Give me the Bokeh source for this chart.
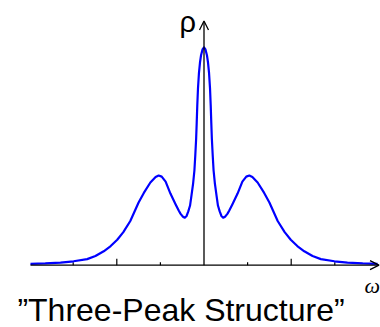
from bokeh.plotting import figure
from bokeh.models import Range1d, Arrow, OpenHead, Label
from bokeh.embed import file_html
from bokeh.resources import INLINE

# spectral function rho(omega) (peak height = 1)
omega = [-3.98, -3.64, -3.29, -2.99, -2.68, -2.49, -2.30, -2.14, -1.99, -1.85,
         -1.69, -1.50, -1.38, -1.23, -1.11, -1.04, -0.97, -0.88, -0.77, -0.65,
         -0.58, -0.54, -0.49, -0.44, -0.40, -0.36, -0.32, -0.29, -0.25, -0.22,
         -0.20, -0.18, -0.167, -0.154, -0.138, -0.115, -0.092, -0.069, -0.034, 0.0,
         0.034, 0.069, 0.092, 0.115, 0.138, 0.154, 0.167, 0.18, 0.20, 0.22,
         0.25, 0.29, 0.32, 0.36, 0.40, 0.44, 0.49, 0.54, 0.58, 0.65,
         0.77, 0.88, 0.97, 1.04, 1.11, 1.23, 1.38, 1.50, 1.69, 1.85,
         1.99, 2.14, 2.30, 2.49, 2.68, 2.99, 3.29, 3.64, 3.98]
rho = [0.006, 0.008, 0.012, 0.018, 0.028, 0.042, 0.064, 0.088, 0.117, 0.152,
       0.203, 0.288, 0.332, 0.380, 0.405, 0.412, 0.407, 0.384, 0.329, 0.279,
       0.251, 0.237, 0.224, 0.218, 0.226, 0.247, 0.274, 0.316, 0.375, 0.435,
       0.504, 0.582, 0.655, 0.734, 0.812, 0.885, 0.931, 0.963, 0.991, 1.0,
       0.991, 0.963, 0.931, 0.885, 0.812, 0.734, 0.655, 0.582, 0.504, 0.435,
       0.375, 0.316, 0.274, 0.247, 0.226, 0.218, 0.224, 0.237, 0.251, 0.279,
       0.329, 0.384, 0.407, 0.412, 0.405, 0.380, 0.332, 0.288, 0.203, 0.152,
       0.117, 0.088, 0.064, 0.042, 0.028, 0.018, 0.012, 0.008, 0.006]

tick_pos = [-3, -2, -1, 1, 2, 3]
tick_len = [0.014, 0.03, 0.014, 0.014, 0.03, 0.014]

title_text = "\u201dThree-Peak Structure\u201d"
y_label = "\u03c1"
x_label = "\u03c9"

W, H = 380, 327
PX0, UX = 203.5, 43.6   # pixel of omega=0, pixels per unit
PY0, UY = 264.7, 217.7  # pixel of rho=0, pixels per unit

p = figure(width=W, height=H, output_backend="svg", toolbar_location=None,
           x_axis_type=None, y_axis_type=None,
           x_range=Range1d(-PX0 / UX, (W - PX0) / UX),
           y_range=Range1d((PY0 - H) / UY, PY0 / UY),
           min_border_left=0, min_border_right=0, min_border_top=0, min_border_bottom=0)
p.grid.visible = False
p.outline_line_color = None
p.background_fill_color = "white"
p.border_fill_color = "white"

x_end = (378.5 - PX0) / UX
y_end = (PY0 - 20.5) / UY

# horizontal axis with arrow
p.add_layout(Arrow(end=OpenHead(size=9, line_width=1.3, line_color="black"),
                   x_start=omega[0], y_start=0, x_end=x_end, y_end=0,
                   line_width=1.3, line_color="black"))
p.segment(x0=tick_pos, y0=[0] * len(tick_pos), x1=tick_pos, y1=tick_len,
          line_color="black", line_width=1.2)

# curve
p.line(omega, rho, line_color="#0000ff", line_width=2.2, line_join="round")

# vertical axis with arrow
p.add_layout(Arrow(end=OpenHead(size=9, line_width=1.3, line_color="black"),
                   x_start=0, y_start=0, x_end=0, y_end=y_end,
                   line_width=1.3, line_color="black"))

p.add_layout(Label(x=(179 - PX0) / UX, y=(PY0 - 21) / UY, text=y_label,
                   text_font="Liberation Sans", text_font_size="29px",
                   text_baseline="alphabetic", text_align="left", text_color="black"))
p.add_layout(Label(x=(364 - PX0) / UX, y=(PY0 - 285) / UY, text=x_label,
                   text_font="Liberation Serif", text_font_style="italic",
                   text_font_size="22px",
                   text_baseline="alphabetic", text_align="left", text_color="black"))
p.add_layout(Label(x=(180.5 - PX0) / UX, y=(PY0 - 309) / UY, text=title_text,
                   text_font="Liberation Sans", text_font_size="32px",
                   text_baseline="alphabetic", text_align="center", text_color="black"))

open("out.html", "w").write(file_html(p, INLINE))
